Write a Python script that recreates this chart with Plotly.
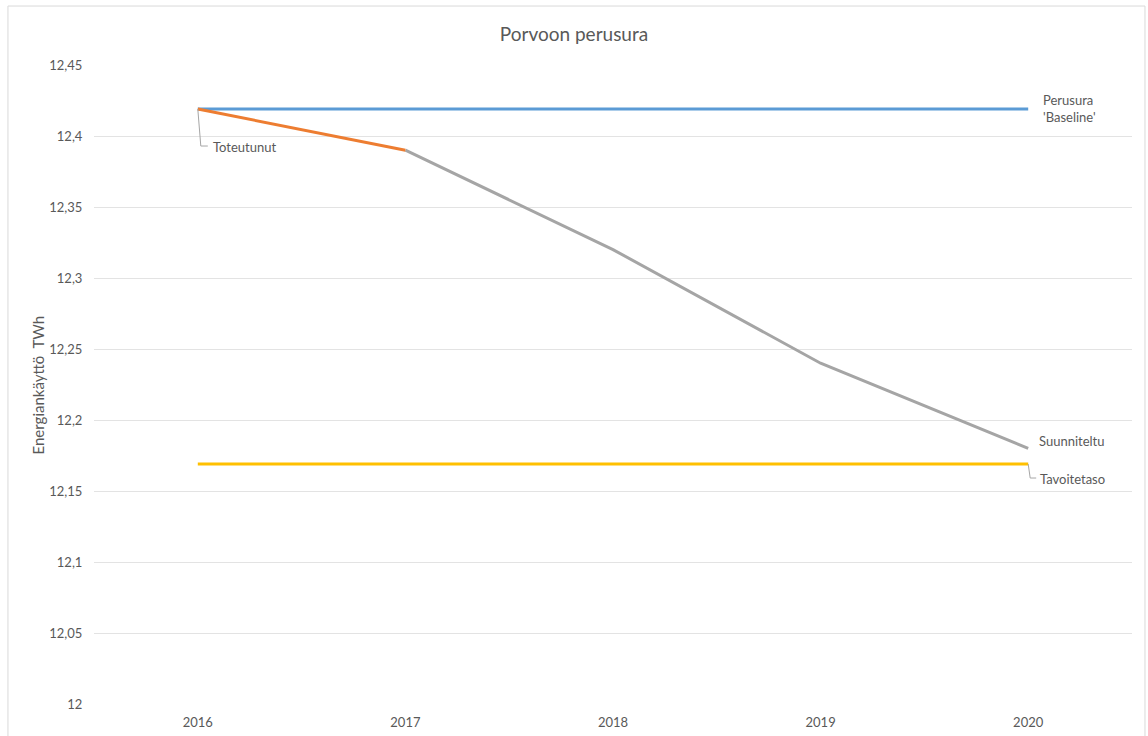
import plotly.graph_objects as go

years = ["2016", "2017", "2018", "2019", "2020"]
perusura = [12.419, 12.419, 12.419, 12.419, 12.419]
toteutunut_years = ["2016", "2017"]
toteutunut = [12.419, 12.39]
suunniteltu_years = ["2017", "2018", "2019", "2020"]
suunniteltu = [12.39, 12.32, 12.24, 12.18]
tavoitetaso = [12.169, 12.169, 12.169, 12.169, 12.169]

y_tickvals = [12.0, 12.05, 12.1, 12.15, 12.2, 12.25, 12.3, 12.35, 12.4, 12.45]
y_ticktext = ["12", "12,05", "12,1", "12,15", "12,2", "12,25", "12,3", "12,35", "12,4", "12,45"]

FONT = "Lato, 'Open Sans', sans-serif"
TXT = "#595959"
LEAD = "#A6A6A6"

W, H = 1148, 736
M = dict(l=94, r=16, t=65, b=32)
Y_RANGE = [12.0, 12.45]
X_RANGE = [-0.5, 4.5]
plot_w = W - M["l"] - M["r"]
plot_h = H - M["t"] - M["b"]
px_per_cat = plot_w / (X_RANGE[1] - X_RANGE[0])
px_per_y = plot_h / (Y_RANGE[1] - Y_RANGE[0])


def leader(cat, yval, pts):
    """Elbow leader path starting at a data point, with pixel offsets (dx, dy-down)."""
    xi = years.index(cat)
    segs = []
    for i, (dx, dy) in enumerate(pts):
        x = xi + dx / px_per_cat
        y = yval - dy / px_per_y
        segs.append(("M" if i == 0 else "L") + f"{x},{y}")
    return dict(type="path", xref="x", yref="y", path=" ".join(segs),
                line=dict(color=LEAD, width=1))


fig = go.Figure()
fig.add_trace(go.Scatter(x=years, y=perusura, mode="lines", name="Perusura 'Baseline'",
                         line=dict(color="#5B9BD5", width=3)))
fig.add_trace(go.Scatter(x=suunniteltu_years, y=suunniteltu, mode="lines", name="Suunniteltu",
                         line=dict(color="#A5A5A5", width=3)))
fig.add_trace(go.Scatter(x=toteutunut_years, y=toteutunut, mode="lines", name="Toteutunut",
                         line=dict(color="#ED7D31", width=3)))
fig.add_trace(go.Scatter(x=years, y=tavoitetaso, mode="lines", name="Tavoitetaso",
                         line=dict(color="#FFC000", width=3)))

ann_font = dict(family=FONT, size=13, color=TXT)


def label(cat, yval, text, dx, dy):
    return dict(x=years.index(cat), y=yval, xref="x", yref="y", text=text,
                showarrow=False, xanchor="left", yanchor="middle", align="left",
                xshift=dx, yshift=dy, font=ann_font)


annotations = [
    label(years[-1], perusura[-1], "Perusura<br>'Baseline'", 13, 1),
    label(suunniteltu_years[-1], suunniteltu[-1], "Suunniteltu", 9, 7),
    label(years[-1], tavoitetaso[-1], "Tavoitetaso", 10, -15),
    label(toteutunut_years[0], toteutunut[0], "Toteutunut", 13, -38),
    dict(x=-0.054, y=0.5, xref="paper", yref="paper", text="Energiankäyttö  TWh", textangle=-90,
         showarrow=False, xanchor="center", yanchor="middle", font=dict(family=FONT, size=15, color=TXT)),
]

shapes = [
    dict(type="rect", xref="paper", yref="paper", x0=-0.0829, x1=1.0125, y0=-0.07, y1=1.0923,
         line=dict(color="#D9D9D9", width=1), fillcolor="rgba(0,0,0,0)", layer="below"),
    leader(toteutunut_years[0], toteutunut[0], [(0, 0), (3, 37), (10, 37)]),
    leader(years[-1], tavoitetaso[-1], [(0, 0), (2, 14), (8, 14)]),
]

fig.update_layout(
    width=W, height=H,
    margin=M,
    paper_bgcolor="white", plot_bgcolor="white",
    showlegend=False,
    title=dict(text="Porvoon perusura", x=0.5, xref="container", xanchor="center",
               y=1 - 34 / H, yanchor="middle", yref="container",
               font=dict(family=FONT, size=19, color=TXT)),
    font=dict(family=FONT, size=13, color=TXT),
    annotations=annotations,
    shapes=shapes,
    xaxis=dict(type="category", range=X_RANGE, showgrid=False, zeroline=False, automargin=False,
               showline=False, ticks="outside", ticklen=6, tickcolor="rgba(0,0,0,0)",
               tickfont=dict(family=FONT, size=13, color=TXT)),
    yaxis=dict(range=Y_RANGE, tickvals=y_tickvals, ticktext=y_ticktext, automargin=False,
               showgrid=True, gridcolor="#E3E3E3", gridwidth=1, zeroline=False, showline=False,
               ticks="outside", ticklen=8, tickcolor="rgba(0,0,0,0)",
               tickfont=dict(family=FONT, size=13, color=TXT)),
)

fig.write_html("out.html")
